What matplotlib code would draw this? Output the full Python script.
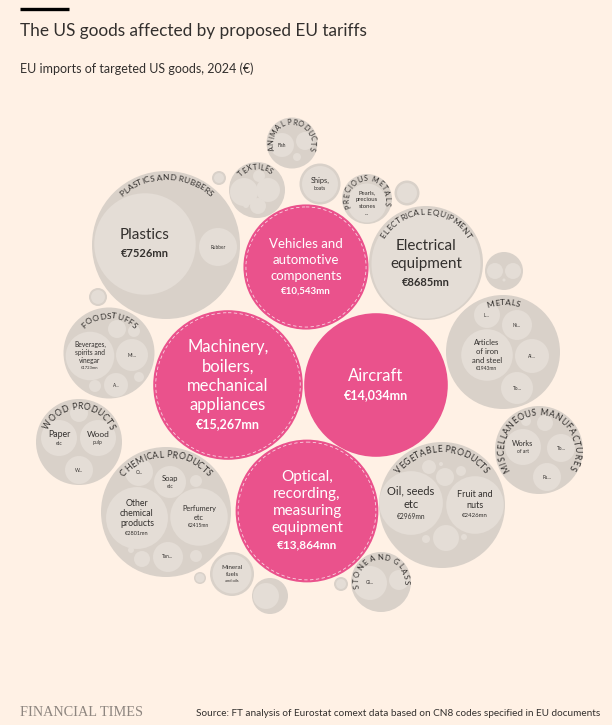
"""Packed bubble chart: US goods affected by proposed EU tariffs (EU imports, 2024, €mn)."""
import math

import matplotlib
matplotlib.use("Agg")
import matplotlib.pyplot as plt
from matplotlib.font_manager import FontProperties
from matplotlib.patches import Circle
from matplotlib.textpath import text_to_path

BG = "#FFF1E5"
PINK = "#EA528C"
GROUP_GREY = "#D9D1C9"
CHILD_GREY = "#E4DDD6"
INK = "#33302E"
FONT = "Lato"
PX = 100 / 72          # pixels per point at dpi=100
K = 0.585              # bubble radius in px per sqrt(€mn)

# ---------------- data (€mn) ----------------
PINK_NAMES = ["Machinery,\nboilers,\nmechanical\nappliances", "Aircraft",
              "Optical,\nrecording,\nmeasuring\nequipment",
              "Vehicles and\nautomotive\ncomponents"]
PINK_VALUES = [15267, 14034, 13864, 10543]

GROUP_NAMES = ["PLASTICS AND RUBBERS", "ELECTRICAL EQUIPMENT", "METALS", "FOODSTUFFS",
               "WOOD PRODUCTS", "CHEMICAL PRODUCTS", "VEGETABLE PRODUCTS",
               "MISCELLANEOUS MANUFACTURES", "STONE AND GLASS", "ANIMAL PRODUCTS",
               "TEXTILES", "PRECIOUS METALS", "", "", "", "", "", "", "", "", ""]

PLASTICS_NAMES = ["Plastics", "Rubber"]
PLASTICS_VALUES = [7526, 1055]
ELECTRICAL_NAMES = ["Electrical\nequipment"]
ELECTRICAL_VALUES = [8685]
METALS_NAMES = ["Articles\nof iron\nand steel", "Al...", "Ni...", "L...", "To..."]
METALS_VALUES = [1943, 844, 657, 494, 748]
FOOD_NAMES = ["Beverages,\nspirits and\nvinegar", "Mi...", "A...", "", "", "", ""]
FOOD_VALUES = [1723, 748, 421, 237, 105, 105, 73]
WOOD_NAMES = ["Paper|etc", "Wood|pulp", "W...", ""]
WOOD_VALUES = [947, 947, 573, 237]
CHEM_NAMES = ["Other\nchemical\nproducts", "Perfumery\netc", "Soap|etc", "O...", "Tan...",
              "", "", "", ""]
CHEM_VALUES = [2801, 2415, 748, 573, 657, 105, 187, 105, 26]
VEG_NAMES = ["Oil, seeds\netc", "Fruit and\nnuts", "", "", "", "", "", "", ""]
VEG_VALUES = [2969, 2426, 494, 237, 143, 73, 47, 26, 12]
MISC_NAMES = ["Works|of art", "To...", "Pu...", "", ""]
MISC_VALUES = [947, 573, 573, 187, 73]
STONE_NAMES = ["Gl...", ""]
STONE_VALUES = [844, 292]
ANIMAL_NAMES = ["Fish", "", ""]
ANIMAL_VALUES = [421, 237, 47]
TEXTILE_NAMES = ["", "", "", "", ""]
TEXTILE_VALUES = [573, 421, 187, 105, 26]
PRECIOUS_NAMES = ["Pearls,\nprecious\nstones\n..."]
PRECIOUS_VALUES = [1111]
SHIPS_NAMES = ["Ships,|boats"]
SHIPS_VALUES = [947]
MINERAL_NAMES = ["Mineral\nfuels|and oils"]
MINERAL_VALUES = [1111]
SMALL_A_VALUES = [187, 187, 7]
SMALL_B_VALUES = [292]
SMALL_C_VALUES = [73]
SMALL_D_VALUES = [143]
SMALL_E_VALUES = [59]
SMALL_F_VALUES = [494]
SMALL_G_VALUES = [73]

GROUP_CHILDREN = [
    (PLASTICS_NAMES, PLASTICS_VALUES), (ELECTRICAL_NAMES, ELECTRICAL_VALUES),
    (METALS_NAMES, METALS_VALUES), (FOOD_NAMES, FOOD_VALUES), (WOOD_NAMES, WOOD_VALUES),
    (CHEM_NAMES, CHEM_VALUES), (VEG_NAMES, VEG_VALUES), (MISC_NAMES, MISC_VALUES),
    (STONE_NAMES, STONE_VALUES), (ANIMAL_NAMES, ANIMAL_VALUES),
    (TEXTILE_NAMES, TEXTILE_VALUES), (PRECIOUS_NAMES, PRECIOUS_VALUES),
    (SHIPS_NAMES, SHIPS_VALUES), (MINERAL_NAMES, MINERAL_VALUES),
    ([""] * 3, SMALL_A_VALUES), ([""], SMALL_B_VALUES), ([""], SMALL_C_VALUES),
    ([""], SMALL_D_VALUES), ([""], SMALL_E_VALUES), ([""], SMALL_F_VALUES),
    ([""], SMALL_G_VALUES),
]

# ---------------- layout (pixel positions of the pack) ----------------
PINK_CENTERS = [(228, 385), (376, 385), (307, 511), (306, 267)]
PINK_TEXT = [(12, 1.17, 9), (12, 1.17, 9), (11, 1.1, 8.5), (9.5, 1.2, 7)]

# (centre, outer radius, child centres, label angle, label pt, tracking, inset)
LAYOUT = [
    ((166, 245), 74, [(145, 244), (218, 247)], 90, 6, 0, 3),
    ((426, 263), 57, [(426, 264)], 90, 6, 0.1, 3),
    ((503, 352), 57, [(487, 355), (532, 356), (517, 325), (487, 315), (517, 388)],
     90, 6, 0, 4),
    ((109, 353), 45.5, [(90, 356), (132, 355), (116, 385), (117, 329), (134, 331),
                        (95, 386), (139, 377)], 90, 6, 0.1, 5),
    ((79, 442), 43, [(59, 438), (98, 438), (79, 470), (79, 413)], 90, 6.2, 0.1, 4),
    ((166, 512), 65, [(137, 518), (199, 517), (170, 482), (139, 472), (168, 557),
                      (196, 481), (142, 559), (196, 556), (131, 550)], 90, 6.3, 0.15, 4),
    ((442, 505), 63, [(411, 503), (475, 505), (446, 538), (445, 477), (429, 467),
                      (461, 471), (426, 539), (464, 537), (441, 464)], 90, 6.3, 0.1, 4),
    ((539, 450), 44, [(523, 447), (561, 448), (547, 477), (545, 423), (526, 421)],
     92, 6.2, 0.3, 3),
    ((381, 582), 30, [(370, 583), (399, 580)], 95, 5.6, 0.6, 2),
    ((292, 143), 25.5, [(282, 145), (305, 141), (297, 157)], 90, 5.2, 0.2, 2),
    ((257, 190), 28, [(244, 192), (268, 190), (258, 206), (259, 176), (246, 205)],
     95, 5.5, 0, 2),
    ((367, 199), 25, [(367, 203)], 95, 5.2, 0.4, 2),
    ((320, 184), 20.5, [(320, 184)], 90, 5, 0, 2),
    ((232, 574), 22, [(232, 574)], 90, 5, 0, 2),
    ((504, 271), 19, [(495, 271), (513, 271), (504, 280)], 90, 5, 0, 2),
    ((407, 193), 12.5, [(407, 193)], 90, 5, 0, 2),
    ((219, 178), 7, [(219, 178)], 90, 5, 0, 2),
    ((98, 297), 9, [(98, 297)], 90, 5, 0, 2),
    ((200, 578), 6, [(200, 578)], 90, 5, 0, 2),
    ((270, 596), 18, [(266, 596)], 90, 5, 0, 2),
    ((341, 584), 7, [(341, 584)], 90, 5, 0, 2),
]

# main-line pt, second-line pt for labelled children
CHILD_TEXT = {
    "Plastics": (11, 8), "Electrical\nequipment": (11, 8),
    "Articles\nof iron\nand steel": (5.5, 3.5),
    "Beverages,\nspirits and\nvinegar": (4.8, 3),
    "Other\nchemical\nproducts": (6.3, 4), "Perfumery\netc": (5.3, 3.5),
    "Oil, seeds\netc": (8, 4.8), "Fruit and\nnuts": (6.5, 4.3),
    "Paper|etc": (6.3, 3.6), "Wood|pulp": (6, 3.6), "Soap|etc": (5.5, 3.5),
    "Works|of art": (5.3, 3.6), "Ships,|boats": (5.3, 3.6),
    "Mineral\nfuels|and oils": (4.5, 3), "Pearls,\nprecious\nstones\n...": (4.3, 4.3),
}


def radius(v):
    return K * math.sqrt(v)


def stack(ax, x, y, lines, color):
    """lines: (text, pt, weight, line-height factor), stacked and centred on y."""
    heights = [pt * PX * lh for _, pt, _, lh in lines]
    top = y - sum(heights) / 2
    for (txt, pt, wt, _), h in zip(lines, heights):
        ax.text(x, top + h / 2, txt, ha="center", va="center", fontsize=pt,
                fontweight=wt, color=color, family=FONT, linespacing=1.05)
        top += h


def arc_text(ax, text, cx, cy, r, pt, deg, track):
    prop = FontProperties(family=FONT, size=pt)

    def width(s):
        w, _, _ = text_to_path.get_text_width_height_descent("|" + s + "|", prop, ismath=False)
        return w * PX

    base = width("")
    cum = [width(text[:i]) - base for i in range(len(text) + 1)]
    total = cum[-1] + track * (len(text) - 1)
    start = math.radians(deg) + total / 2 / r
    for i, ch in enumerate(text):
        if ch == " ":
            continue
        mid = (cum[i] + cum[i + 1]) / 2 + track * i
        th = start - mid / r
        ax.text(cx + r * math.cos(th), cy - r * math.sin(th), ch, fontproperties=prop,
                color=INK, rotation=math.degrees(th) - 90, rotation_mode="anchor",
                ha="center", va="baseline")


def main() -> None:
    fig = plt.figure(figsize=(6.12, 7.25), dpi=100, facecolor=BG)
    ax = fig.add_axes([0, 0, 1, 1])
    ax.set_xlim(0, 612)
    ax.set_ylim(725, 0)
    ax.set_facecolor(BG)
    ax.axis("off")

    # header
    ax.plot([20, 69], [8.5, 8.5], color="black", lw=2.4, solid_capstyle="butt")
    ax.text(20, 31, "The US goods affected by proposed EU tariffs", fontsize=12.4,
            family=FONT, color=INK, va="center")
    ax.text(20, 69, "EU imports of targeted US goods, 2024 (€)", fontsize=9,
            family=FONT, color=INK, va="center")

    # grey sector groups
    for name, (kids, vals), (c, R, kcs, deg, lpt, trk, inset) in zip(
            GROUP_NAMES, GROUP_CHILDREN, LAYOUT):
        ax.add_patch(Circle(c, R, facecolor=GROUP_GREY, edgecolor="none"))
        for kid, v, kc in zip(kids, vals, kcs):
            ax.add_patch(Circle(kc, radius(v), facecolor=CHILD_GREY, edgecolor="none"))
            if not kid:
                continue
            main_pt, sub_pt = CHILD_TEXT.get(kid, (3.4, 3.4))
            head, _, sub = kid.partition("|")
            lines = [(ln, main_pt, "normal", 1.18) for ln in head.split("\n")]
            if sub:
                lines.append((sub, sub_pt, "normal", 1.5))
            if v >= 1500:
                lines.append((f"€{v}mn", sub_pt, "bold" if v > 5000 else "normal", 1.6))
            stack(ax, kc[0], kc[1], lines, INK)
        if name:
            r_txt = R - inset - 0.72 * lpt * PX
            arc_text(ax, name, c[0], c[1], r_txt, lpt, deg, trk)

    # pink headline sectors
    for name, v, c, (mpt, lh, vpt) in zip(PINK_NAMES, PINK_VALUES, PINK_CENTERS, PINK_TEXT):
        r = radius(v)
        ax.add_patch(Circle(c, r + 2.5, facecolor=PINK, edgecolor="none"))
        if name != "Aircraft":
            ax.add_patch(Circle(c, r, facecolor="none", edgecolor="white", lw=0.6,
                                ls=(0, (4, 3)), alpha=0.75))
        lines = [(ln, mpt, "normal", lh) for ln in name.split("\n")]
        lines.append((f"€{v:,}mn", vpt, "bold", 1.45))
        stack(ax, c[0], c[1], lines, "white")

    # footer
    ax.text(20, 712, "FINANCIAL TIMES", fontsize=10.3, family="Liberation Serif",
            color="#8E8680", va="center")
    ax.text(600, 713, "Source: FT analysis of Eurostat comext data based on CN8 codes "
            "specified in EU documents", fontsize=7.2, family=FONT, color=INK,
            ha="right", va="center")

    fig.savefig("out.png", dpi=100, facecolor=BG)
    plt.close(fig)


if __name__ == "__main__":
    main()
